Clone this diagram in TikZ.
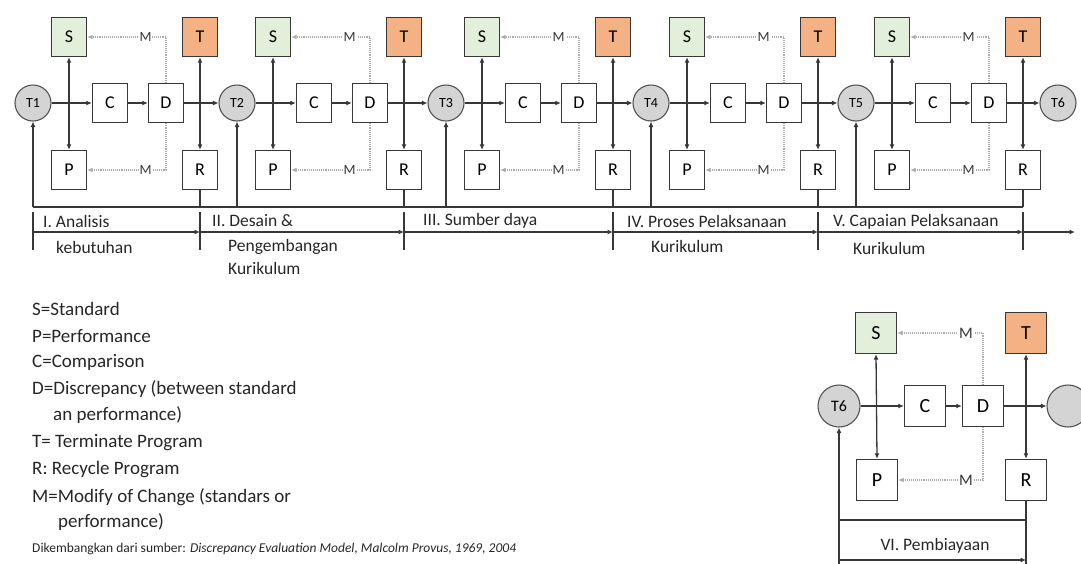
\documentclass[tikz,border=0pt]{standalone}
\usepackage{fontspec}
\setmainfont{Carlito}
\usetikzlibrary{arrows.meta,calc}
\definecolor{sgreen}{RGB}{226,239,218}
\definecolor{torange}{RGB}{244,177,131}
\definecolor{ln}{RGB}{55,55,55}
\definecolor{circfill}{RGB}{212,212,212}
\begin{document}
\begin{tikzpicture}[x=1pt,y=-1pt,
  box/.style={draw=ln, line width=1.4pt, minimum width=35pt, minimum height=39pt, inner sep=0pt, font=\fontsize{18}{18}\selectfont, fill=white},
  sbox/.style={box, fill=sgreen},
  tbox/.style={box, fill=torange},
  tcirc/.style={circle, draw=gray!65!black, line width=1.1pt, fill=circfill, minimum size=36pt, inner sep=0pt, font=\fontsize{14}{14}\selectfont},
  mbox/.style={box, minimum width=41pt, minimum height=41pt, font=\fontsize{20}{20}\selectfont},
  mcirc/.style={tcirc, minimum size=42pt, font=\fontsize{16}{16}\selectfont},
  conn/.style={draw=ln, line width=1.3pt},
  heavy/.style={draw=ln, line width=2pt},
  arr/.style={conn, -{Latex[length=5.5pt,width=5pt]}},
  barr/.style={heavy, -{Latex[length=5.5pt,width=5pt]}},
  darr/.style={conn, {Latex[length=5.5pt,width=5pt]}-{Latex[length=5.5pt,width=5pt]}},
  mline/.style={draw=gray!65, line width=1.1pt, densely dotted, -{Latex[length=5.5pt,width=5pt]}},
  mlab/.style={fill=white, inner sep=1pt, font=\fontsize{14}{14}\selectfont, text=ln},
  mmlab/.style={mlab, font=\fontsize{16}{16}\selectfont},
  stagelab/.style={font=\fontsize{17.5}{17.5}\selectfont, anchor=west, inner sep=0pt, text=black!85},
  legend/.style={font=\fontsize{19}{19}\selectfont, anchor=west, inner sep=0pt, text=black!85},
]
\useasboundingbox (0,0) rectangle (1081,563);

% ---------- top row of stages ----------
\foreach \k/\x in {1/33,2/237,3/446,4/651,5/856}{
  \node[tcirc] (T\k) at (\x,103) {T\k};
  \node[sbox] (S\k) at (\x+36,37) {S};
  \node[box]  (P\k) at (\x+36,170) {P};
  \node[box]  (C\k) at (\x+77,103) {C};
  \node[box]  (D\k) at (\x+133,103) {D};
  \node[tbox] (X\k) at (\x+167,37) {T};
  \node[box]  (R\k) at (\x+167,170) {R};
}
\node[tcirc] (T6) at (1058,103) {T6};

\coordinate (bl) at (0,207);
\coordinate (tl) at (0,232);
\coordinate (tka) at (0,212);
\coordinate (tkb) at (0,250);

\foreach \k in {1,...,5}{
  \pgfmathtruncatemacro\n{\k+1}
  \draw[arr] (T\k.east) -- (C\k.west);
  \draw[arr] (C\k.east) -- (D\k.west);
  \draw[arr] (D\k.east) -- (T\n.west);
  \draw[darr] (S\k.south) -- (P\k.north);
  \draw[darr] (X\k.south) -- (R\k.north);
  \draw[mline] (D\k.north) |- node[mlab, pos=0.63] {M} (S\k.east);
  \draw[mline] (D\k.south) |- node[mlab, pos=0.63] {M} (P\k.east);
  \draw[heavy] (R\k.south) -- (R\k |- bl);
  \draw[barr] (T\k |- bl) -- (T\k.south);
  \draw[conn] (R\k |- tka) -- (R\k |- tkb);
}
\draw[heavy] (T1 |- bl) -- (R5 |- bl);
\draw[conn] (T1 |- tka) -- (T1 |- tkb);

% timeline
\coordinate (tend) at (1075,232);
\draw[arr] (T1 |- tl) -- (R1 |- tl);
\draw[arr] (R1 |- tl) -- (R2 |- tl);
\draw[arr] (R2 |- tl) -- (R3 |- tl);
\draw[arr] (R3 |- tl) -- (R4 |- tl);
\draw[arr] (R4 |- tl) -- (R5 |- tl);
\draw[arr] (R5 |- tl) -- (tend);

\node[stagelab] (l1a) at (43,221) {I. Analisis};
\node[stagelab] (l1b) at (56,247) {kebutuhan};
\node[stagelab] (l2a) at (212,221) {II. Desain \&};
\node[stagelab] (l2b) at (228,247) {Pengembangan};
\node[stagelab] (l2c) at (228,268) {Kurikulum};
\node[stagelab] (l3a) at (423,221) {III. Sumber daya};
\node[stagelab] (l4a) at (627,221) {IV. Proses Pelaksanaan};
\node[stagelab] (l4b) at (651,246) {Kurikulum};
\node[stagelab] (l5a) at (833,222) {V. Capaian Pelaksanaan};
\node[stagelab] (l5b) at (853,248) {Kurikulum};

% ---------- legend ----------
\node[legend] (g1) at (32,309) {S=Standard};
\node[legend] (g2) at (32,336) {P=Performance};
\node[legend] (g3) at (32,362) {C=Comparison};
\node[legend] (g4) at (32,389) {D=Discrepancy (between standard};
\node[legend] (g5) at (53,415) {an performance)};
\node[legend] (g6) at (32,443) {T= Terminate Program};
\node[legend] (g7) at (32,470) {R: Recycle Program};
\node[legend] (g8) at (32,497) {M=Modify of Change (standars or};
\node[legend] (g9) at (58,522) {performance)};
\node[legend, font=\fontsize{13.5}{13.5}\selectfont] (g10) at (32,549) {Dikembangkan dari sumber: \textit{Discrepancy Evaluation Model, Malcolm Provus, 1969, 2004}};

% ---------- stage VI ----------
\node[mcirc] (mT) at (839,406) {T6};
\node[mbox, fill=sgreen] (mS) at (876,333) {S};
\node[mbox, fill=torange] (mX) at (1026,333) {T};
\node[mbox] (mC) at (925,406) {C};
\node[mbox] (mD) at (983,406) {D};
\node[mbox] (mP) at (877,480) {P};
\node[mbox] (mR) at (1026,480) {R};
\node[mcirc] (mE) at (1068,406) {};

\coordinate (mbl) at (0,520);
\coordinate (mtl) at (0,560);
\coordinate (mtkb) at (0,566);

\draw[arr] (mT.east) -- (mC.west);
\draw[arr] (mC.east) -- (mD.west);
\draw[arr] (mD.east) -- (mE.west);
\draw[darr] (mS.south) -- (mP.north);
\draw[darr] (mX.south) -- (mR.north);
\draw[mline] (mD.north) |- node[mmlab, pos=0.6] {M} (mS.east);
\draw[mline] (mD.south) |- node[mmlab, pos=0.6] {M} (mP.east);
\draw[heavy] (mR.south) |- (mT |- mbl);
\draw[barr] (mT |- mbl) -- (mT.south);
\draw[conn] (mT |- mbl) -- (mT |- mtkb);
\draw[conn] (mR |- mbl) -- (mR |- mtkb);
\draw[arr] (mT |- mtl) -- (mR |- mtl);
\node[stagelab, anchor=center] (l6) at (935,546) {VI. Pembiayaan};
\end{tikzpicture}
\end{document}
